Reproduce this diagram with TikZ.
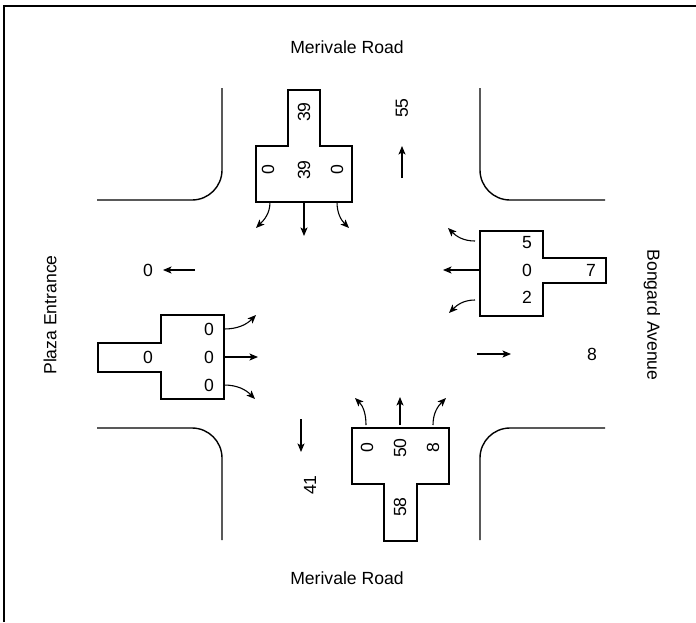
\documentclass[tikz,border=0pt]{standalone}
\usepackage{fontspec}
\setmainfont{Liberation Sans}
\usetikzlibrary{arrows.meta}
\begin{document}
\begin{tikzpicture}[x=1pt,y=1pt,font=\fontsize{17.6}{20}\selectfont,
  mv/.style={-{Stealth[length=8.5pt,width=7pt,inset=2pt]},line width=1.1pt},
  curb/.style={line width=1.4pt},lane/.style={line width=1.4pt,line join=miter},
  vnum/.style={rotate=90,inner sep=1pt}]
\useasboundingbox(0,0)rectangle(696,-622);
\draw[line width=2pt](3.5,-622)--(3.5,-5.5)--(696,-5.5);
% curbs
\draw[curb](222,-88)--(222,-170)arc(0:-90:30)--(97,-200);
\draw[curb](480,-88)--(480,-170)arc(180:270:30)--(605,-200);
\draw[curb](97,-428)--(192,-428)arc(90:0:30)--(222,-540);
\draw[curb](605,-428)--(510,-428)arc(90:180:30)--(480,-540);
% road names
\node(rn)at(347,-47){Merivale Road};\node(rs)at(347,-578){Merivale Road};
\node[rotate=90](rw)at(50,-315){Plaza Entrance};\node[rotate=-90](re)at(652,-315){Bongard Avenue};
% north approach
\draw[lane](288,-90)--(320,-90)--(320,-146)--(352,-146)--(352,-202)--(256,-202)--(256,-146)--(288,-146)--cycle;
\node[vnum](nin)at(304,-112){39};\node[vnum](nl)at(268,-170){0};\node[vnum](nt)at(304,-170){39};\node[vnum](nr)at(337,-170){0};
\coordinate(nlo)at(270,-202);\coordinate(nto)at(304,-202);\coordinate(nro)at(337,-202);
\coordinate(nle)at(256,-228);\coordinate(nte)at(304,-236);\coordinate(nre)at(349,-228);
\draw[mv](nto)--(nte);\draw[mv](nlo)to[out=-90,in=45](nle);\draw[mv](nro)to[out=-90,in=135](nre);
\node[vnum](nout)at(402,-108){55};\coordinate(nob)at(402,-178);\coordinate(not)at(402,-146);\draw[mv](nob)--(not);
% west approach
\draw[lane](98,-343)--(161,-343)--(161,-315)--(224,-315)--(224,-399)--(161,-399)--(161,-372)--(98,-372)--cycle;
\node(win)at(148,-357){0};\node(wl)at(209,-329){0};\node(wt)at(209,-357){0};\node(wr)at(209,-385){0};
\coordinate(wlo)at(224,-329);\coordinate(wto)at(224,-357);\coordinate(wro)at(224,-385);
\coordinate(wle)at(256,-315);\coordinate(wte)at(258,-357);\coordinate(wre)at(255,-399);
\draw[mv](wto)--(wte);\draw[mv](wlo)to[out=0,in=-135](wle);\draw[mv](wro)to[out=0,in=135](wre);
\node(wout)at(148,-270){0};\coordinate(wob)at(195,-270);\coordinate(wot)at(163,-270);\draw[mv](wob)--(wot);
% east approach
\draw[lane](480,-231)--(543,-231)--(543,-258)--(606,-258)--(606,-283)--(543,-283)--(543,-316)--(480,-316)--cycle;
\node(el)at(527,-243){5};\node(et)at(527,-270){0};\node(er)at(527,-297){2};\node(ein)at(591,-270){7};
\coordinate(elo)at(475,-241);\coordinate(eto)at(480,-270);\coordinate(ero)at(475,-300);
\coordinate(ele)at(448,-228);\coordinate(ete)at(443,-270);\coordinate(ere)at(449,-313);
\draw[mv](eto)--(ete);\draw[mv](elo)to[out=180,in=-45](ele);\draw[mv](ero)to[out=180,in=45](ere);
\node(eout)at(592,-354){8};\coordinate(eob)at(477,-354);\coordinate(eot)at(511,-354);\draw[mv](eob)--(eot);
% south approach
\draw[lane](352,-428)--(449,-428)--(449,-484)--(417,-484)--(417,-541)--(384,-541)--(384,-484)--(352,-484)--cycle;
\node[vnum](sl)at(367,-448){0};\node[vnum](st)at(400,-448){50};\node[vnum](sr)at(433,-448){8};\node[vnum](sin)at(400,-507){58};
\coordinate(slo)at(366,-425);\coordinate(sto)at(400,-425);\coordinate(sro)at(433,-425);
\coordinate(sle)at(355,-398);\coordinate(ste)at(400,-397);\coordinate(sre)at(446,-398);
\draw[mv](sto)--(ste);\draw[mv](slo)to[out=90,in=-45](sle);\draw[mv](sro)to[out=90,in=-135](sre);
\node[vnum](sout)at(310,-485){41};\coordinate(sob)at(301,-419);\coordinate(sot)at(301,-452);\draw[mv](sob)--(sot);
\end{tikzpicture}
\end{document}
